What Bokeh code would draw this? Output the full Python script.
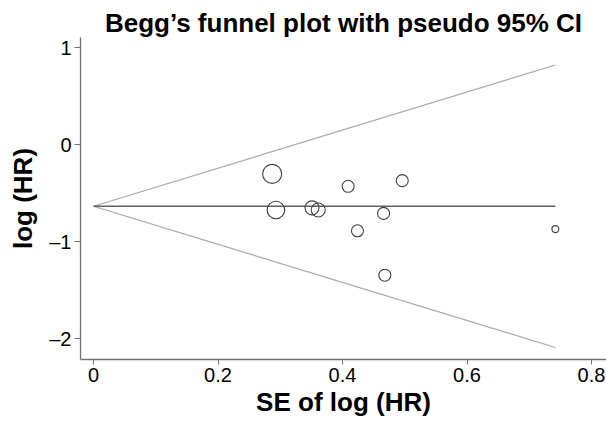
from bokeh.plotting import figure
from bokeh.models import FixedTicker, Range1d, ColumnDataSource
from bokeh.embed import file_html
from bokeh.resources import INLINE

# ---- data ----
se = [0.287, 0.293, 0.351, 0.361, 0.409, 0.496, 0.466, 0.424, 0.468, 0.742]
log_hr = [-0.300, -0.672, -0.650, -0.672, -0.428, -0.369, -0.707, -0.886, -1.344, -0.869]
marker_size = [19, 17.5, 14, 14, 12, 12, 12, 12, 12, 7]

pooled_se = [0.0, 0.742]
pooled_line = [-0.633, -0.633]
funnel_upper = [-0.633, 0.823]
funnel_lower = [-0.633, -2.089]

x_ticks = [0, 0.2, 0.4, 0.6, 0.8]
x_tick_labels = ["0", "0.2", "0.4", "0.6", "0.8"]
y_ticks = [-2, -1, 0, 1]
y_tick_labels = ["\u20132", "\u20131", "0", "1"]

FONT = "Liberation Sans"

p = figure(width=606, height=423, output_backend="svg", toolbar_location=None,
           x_range=Range1d(-0.0209, 0.8241), y_range=Range1d(-2.213, 1.106),
           min_border_left=80, min_border_right=0, min_border_top=37, min_border_bottom=64,
           title="Begg\u2019s funnel plot with pseudo 95% CI")

p.title.align = "center"
p.title.text_font = FONT
p.title.text_font_size = "26px"
p.title.text_font_style = "bold"
p.title.text_color = "#000000"
p.title.standoff = 0

p.grid.visible = False
p.outline_line_color = None
p.background_fill_color = "white"
p.border_fill_color = "white"

p.line(pooled_se, funnel_upper, line_color="#a8a8a8", line_width=1.2)
p.line(pooled_se, funnel_lower, line_color="#a8a8a8", line_width=1.2)
p.line(pooled_se, pooled_line, line_color="#606060", line_width=1.5)

src = ColumnDataSource(dict(x=se, y=log_hr, s=marker_size))
p.scatter("x", "y", size="s", source=src, marker="circle", fill_color=None,
          line_color="#404040", line_width=1.1)

for ax in (p.xaxis[0], p.yaxis[0]):
    ax.axis_line_color = "#707070"
    ax.axis_line_width = 1.3
    ax.major_tick_line_color = "#707070"
    ax.major_tick_in = 0
    ax.minor_tick_line_color = None
    ax.major_label_text_font = FONT
    ax.major_label_text_font_size = "20px"
    ax.major_label_text_color = "#000000"
    ax.axis_label_text_font = FONT
    ax.axis_label_text_font_size = "26px"
    ax.axis_label_text_font_style = "bold"
    ax.axis_label_text_color = "#000000"

p.xaxis.ticker = FixedTicker(ticks=x_ticks)
p.xaxis.major_label_overrides = {t: l for t, l in zip(x_ticks, x_tick_labels)}
p.yaxis.ticker = FixedTicker(ticks=y_ticks)
p.yaxis.major_label_overrides = {t: l for t, l in zip(y_ticks, y_tick_labels)}

p.xaxis.axis_label = "SE of log (HR)"
p.yaxis.axis_label = "log (HR)"
p.xaxis.major_tick_out = 5
p.yaxis.major_tick_out = 6
p.xaxis.major_label_standoff = 3
p.xaxis.axis_label_standoff = 2
p.yaxis.major_label_standoff = 3
p.yaxis.axis_label_standoff = 8
p.yaxis.major_label_orientation = "horizontal"

open("out.html", "w").write(file_html(p, INLINE))
